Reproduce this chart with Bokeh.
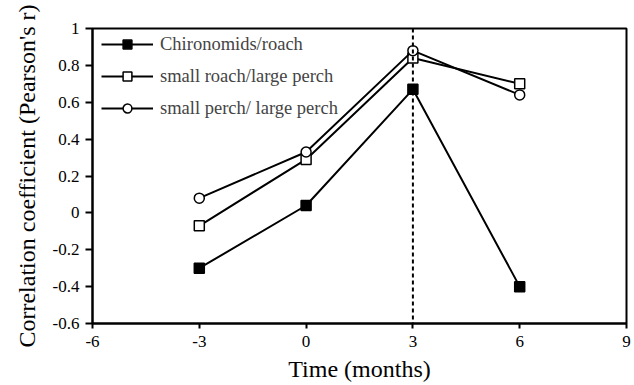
from bokeh.plotting import figure
from bokeh.models import FixedTicker, Span, Legend, LegendItem
from bokeh.embed import file_html
from bokeh.resources import INLINE

time = [-3, 0, 3, 6]
chiro_roach = [-0.30, 0.04, 0.67, -0.40]
sroach_lperch = [-0.07, 0.29, 0.84, 0.70]
sperch_lperch = [0.08, 0.33, 0.88, 0.64]
series_names = ["Chironomids/roach", "small roach/large perch", "small perch/ large perch"]
x_ticks = [-6, -3, 0, 3, 6, 9]
y_ticks = [-0.6, -0.4, -0.2, 0, 0.2, 0.4, 0.6, 0.8, 1]
y_labels = ["-0.6", "-0.4", "-0.2", "0", "0.2", "0.4", "0.6", "0.8", "1"]

FONT = "Liberation Serif"

p = figure(width=634, height=385, output_backend="svg", toolbar_location=None,
           x_range=(-6, 9), y_range=(-0.6, 1),
           min_border_left=92, min_border_right=8, min_border_top=28, min_border_bottom=62)
p.grid.visible = False
p.outline_line_color = "black"
p.outline_line_width = 2
p.background_fill_color = "white"
p.border_fill_color = "white"

p.axis.axis_line_width = 2
p.axis.major_tick_line_width = 2
p.axis.major_tick_in = 0
p.axis.minor_tick_line_color = None
p.axis.major_label_text_font = FONT
p.axis.major_label_text_font_size = "17px"
p.axis.major_label_text_color = "black"
p.axis.axis_label_text_font = FONT
p.axis.axis_label_text_font_size = "24px"
p.axis.axis_label_text_font_style = "normal"
p.axis.axis_label_text_color = "black"
p.xaxis.major_tick_out = 5
p.yaxis.major_tick_out = 7

p.xaxis.ticker = FixedTicker(ticks=x_ticks)
p.yaxis.ticker = FixedTicker(ticks=y_ticks)
p.yaxis.major_label_overrides = {t: l for t, l in zip(y_ticks, y_labels)}
p.xaxis.major_label_overrides = {t: str(t) for t in x_ticks}
p.xaxis.axis_label = "Time (months)"
p.yaxis.axis_label = "Correlation coefficient (Pearson's r)"
p.xaxis.axis_label_standoff = 6
p.yaxis.axis_label_standoff = 10
p.yaxis.major_label_standoff = 6
p.xaxis.major_label_standoff = 7

p.add_layout(Span(location=3, dimension="height", line_color="black",
                  line_width=2, line_dash="4 3"))

l1 = p.line(time, chiro_roach, line_color="black", line_width=2)
m1 = p.scatter(time, chiro_roach, marker="square", size=10, fill_color="black",
               line_color="black", line_width=1.5)
l2 = p.line(time, sroach_lperch, line_color="black", line_width=2)
m2 = p.scatter(time, sroach_lperch, marker="square", size=10, fill_color="white",
               line_color="black", line_width=1.5)
l3 = p.line(time, sperch_lperch, line_color="black", line_width=2)
m3 = p.scatter(time, sperch_lperch, marker="circle", size=10, fill_color="white",
               line_color="black", line_width=1.5)
items = [LegendItem(label=series_names[0], renderers=[l1, m1]),
         LegendItem(label=series_names[1], renderers=[l2, m2]),
         LegendItem(label=series_names[2], renderers=[l3, m3])]
legend = Legend(items=items, location=(9, 204), border_line_color=None,
                background_fill_alpha=0, label_text_font=FONT,
                label_text_font_size="18.5px", glyph_width=52, glyph_height=22,
                spacing=10, margin=0, padding=4, label_standoff=7)
p.add_layout(legend)

open("out.html", "w").write(file_html(p, INLINE))
